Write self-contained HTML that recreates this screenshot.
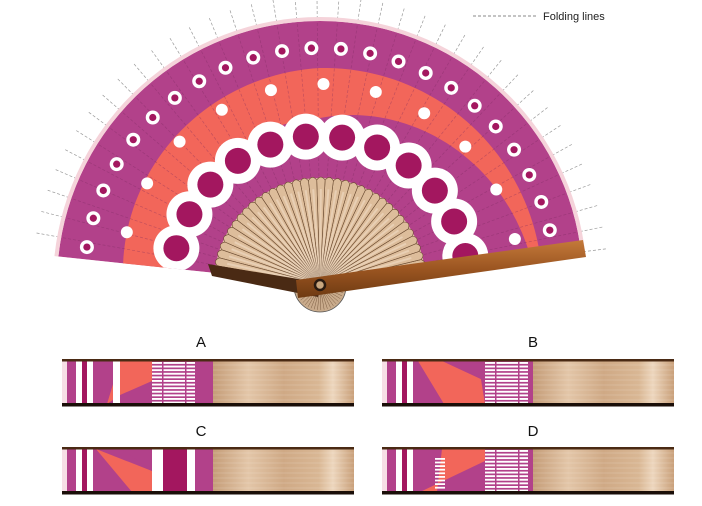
<!DOCTYPE html>
<html><head><meta charset="utf-8">
<style>
html,body{margin:0;padding:0;background:#fff;width:702px;height:506px;overflow:hidden}
svg{display:block}
text{font-family:"Liberation Sans",sans-serif}
</style></head>
<body>
<svg id="s" width="702" height="506" viewBox="0 0 702 506" xmlns="http://www.w3.org/2000/svg">
<defs>
<clipPath id="fanclip"><path id="fcp" d=""/></clipPath>
<linearGradient id="wood" x1="0" y1="0" x2="1" y2="0">
<stop offset="0" stop-color="#c59d78"/><stop offset="0.25" stop-color="#e3c6a8"/>
<stop offset="0.5" stop-color="#cfa985"/><stop offset="0.75" stop-color="#d9b794"/>
<stop offset="0.85" stop-color="#edd6bd"/><stop offset="1" stop-color="#c9a07a"/>
</linearGradient>
<linearGradient id="hand" x1="0" y1="0" x2="0" y2="1">
<stop offset="0" stop-color="#c47a3a"/><stop offset="0.5" stop-color="#9b5521"/><stop offset="1" stop-color="#6e3a12"/>
</linearGradient>
<radialGradient id="rib" cx="0.5" cy="1" r="1">
<stop offset="0.2" stop-color="#b8906c"/><stop offset="1" stop-color="#e2c5a4"/>
</radialGradient>
</defs>
<g id="fan"></g>
<g id="strips"></g>
<line x1="473" y1="16" x2="537" y2="16" stroke="#888" stroke-dasharray="3 2" stroke-width="1"/>
<text x="543" y="20" font-size="11" fill="#222">Folding lines</text>
<text x="201" y="347" font-size="15" fill="#111" text-anchor="middle">A</text>
<text x="533" y="347" font-size="15" fill="#111" text-anchor="middle">B</text>
<text x="201" y="436" font-size="15" fill="#111" text-anchor="middle">C</text>
<text x="533" y="436" font-size="15" fill="#111" text-anchor="middle">D</text>
</svg>
<script>
const NS="http://www.w3.org/2000/svg";
function el(p,t,a){const e=document.createElementNS(NS,t);for(const k in a)e.setAttribute(k,a[k]);p.appendChild(e);return e;}
const cx=320,cy=284,R=263,a0=6,a1=174;
function pt(r,d){const t=d*Math.PI/180;return [cx+r*Math.cos(t),cy-r*Math.sin(t)];}
function sector(r,s,e){const p1=pt(r,s),p2=pt(r,e);return `M${cx},${cy}L${p1[0]},${p1[1]}A${r},${r} 0 0 0 ${p2[0]},${p2[1]}Z`;}
document.getElementById('fcp').setAttribute('d',sector(R,a0,a1));
const fan=document.getElementById('fan');
for(let d=a0+1;d<=a1;d+=4.4){const p=pt(265,d),q=pt(288,d);el(fan,'line',{x1:p[0],y1:p[1],x2:q[0],y2:q[1],stroke:'#999','stroke-width':0.7,'stroke-dasharray':'3 2'});}
el(fan,'path',{d:sector(R+4,a0,a1),fill:'#f5d3da'});
const g=el(fan,'g',{'clip-path':'url(#fanclip)'});
el(g,'path',{d:sector(R,a0,a1),fill:'#b2418a'});
function rOut(d){return d>=90?216+(198-216)*(d-90)/84:222+(216-222)*(d-6)/84;}
function rIn(d){return d>=90?166+(150-166)*(d-90)/84:213+(166-213)*(d-6)/84;}
let pts=[];for(let d=0;d<=180;d+=2)pts.push(pt(rOut(d),d));for(let d=180;d>=0;d-=2)pts.push(pt(rIn(d),d));
el(g,'polygon',{points:pts.map(p=>p.join(',')).join(' '),fill:'#f2665a'});
for(let d=a0+1;d<=a1;d+=4.4){const p=pt(108,d),q=pt(R,d);el(g,'line',{x1:p[0],y1:p[1],x2:q[0],y2:q[1],stroke:'#7a2a5e','stroke-opacity':0.4,'stroke-width':0.7,'stroke-dasharray':'3 2'});}
for(let i=0;i<24;i++){const d=171-i*(165/23);const p=pt(236,d);el(g,'circle',{cx:p[0],cy:p[1],r:7,fill:'#fff'});el(g,'circle',{cx:p[0],cy:p[1],r:3.6,fill:'#a3175f'});}
for(let i=0;i<11;i++){const d=165-i*15.2;const p=pt(200,d);el(g,'circle',{cx:p[0],cy:p[1],r:6,fill:'#fff'});}
const bc=[];for(let i=0;i<12;i++){bc.push(pt(148,166-i*14.1));}
bc.forEach(p=>el(g,'circle',{cx:p[0],cy:p[1],r:23,fill:'#fff'}));
bc.forEach(p=>el(g,'circle',{cx:p[0],cy:p[1],r:13,fill:'#a3175f'}));
el(fan,'circle',{cx:cx,cy:cy+2,r:26,fill:'#c9ab8c',stroke:'#555','stroke-width':0.8});
for(let d=0;d<360;d+=8){const p=[cx+24*Math.cos(d*Math.PI/180),cy+2+24*Math.sin(d*Math.PI/180)];el(fan,'line',{x1:cx,y1:cy+2,x2:p[0],y2:p[1],stroke:'#7b5c40','stroke-width':0.5});}
el(fan,'path',{d:sector(106,8,172),fill:'#e2c6a6'});
for(let d=9;d<=171;d+=4.6){const q=pt(110,d+2.3);const p1=pt(104,d),p2=pt(104,d+4.6);
 el(fan,'path',{d:`M${cx},${cy}L${p1[0]},${p1[1]}Q${q[0]},${q[1]} ${p2[0]},${p2[1]}Z`,fill:'#ddbd9b',stroke:'#6a4a30','stroke-width':0.6});
 const h=pt(95,d+2.3);el(fan,'line',{x1:cx,y1:cy,x2:h[0],y2:h[1],stroke:'#f3e2cd','stroke-width':2,'stroke-opacity':0.5});}
el(fan,'polygon',{points:'208,264 212,276 318,297 322,283',fill:'#4a2a14'});
el(fan,'polygon',{points:'296,280 583,240 586,257 298,298',fill:'url(#hand)'});
el(fan,'circle',{cx:cx,cy:cy+1,r:5,fill:'#c9a77f',stroke:'#2a1a10','stroke-width':2.5});
const S=document.getElementById('strips');
function strip(x0,y0,type){
 const h=47,W=292;const gg=el(S,'g',{});
 const y1=y0+2,hh=h-4;
 el(gg,'rect',{x:x0+151,y:y1,width:W-151,height:hh,fill:'url(#wood)'});
 for(let k=0;k<8;k++)el(gg,'line',{x1:x0+151,y1:y1+4+k*5,x2:x0+W,y2:y1+4+k*5,stroke:'#fff','stroke-opacity':0.15,'stroke-width':1});
 el(gg,'rect',{x:x0,y:y1,width:5,height:hh,fill:'#f7dfe6'});
 el(gg,'rect',{x:x0+5,y:y1,width:146,height:hh,fill:'#b2418a'});
 const X=v=>x0+v;
 if(type=='A'){el(gg,'polygon',{points:`${X(58)},${y1} ${X(90)},${y1} ${X(90)},${y1+20} ${X(58)},${y1+34} ${X(45)},${y1+hh}`,fill:'#f2665a'});}
 if(type=='B'){el(gg,'polygon',{points:`${X(36)},${y1} ${X(96)},${y1} ${X(103)},${y1+hh} ${X(62)},${y1+hh}`,fill:'#f2665a'});el(gg,'polygon',{points:`${X(60)},${y1} ${X(103)},${y1} ${X(103)},${y1+20}`,fill:'#b2418a'});}
 if(type=='C'){el(gg,'polygon',{points:`${X(34)},${y1} ${X(90)},${y1+22} ${X(90)},${y1+hh} ${X(70)},${y1+hh}`,fill:'#f2665a'});el(gg,'polygon',{points:`${X(60)},${y1} ${X(90)},${y1} ${X(90)},${y1+22}`,fill:'#b2418a'});}
 if(type=='D'){el(gg,'polygon',{points:`${X(60)},${y1} ${X(103)},${y1} ${X(103)},${y1+12} ${X(38)},${y1+hh} ${X(55)},${y1+hh}`,fill:'#f2665a'});
   for(let k=0;k<9;k++)el(gg,'rect',{x:X(53),y:y1+9+k*3.6,width:10,height:1.8,fill:'#fff'});}
 el(gg,'rect',{x:X(14),y:y1,width:6,height:hh,fill:'#fff'});
 el(gg,'rect',{x:X(20),y:y1,width:5,height:hh,fill:'#a3175f'});
 el(gg,'rect',{x:X(25),y:y1,width:6,height:hh,fill:'#fff'});
 if(type=='A')el(gg,'rect',{x:X(51),y:y1,width:7,height:hh,fill:'#fff'});
 if(type=='C'){el(gg,'rect',{x:X(90),y:y1,width:11,height:hh,fill:'#fff'});el(gg,'rect',{x:X(101),y:y1,width:24,height:hh,fill:'#a3175f'});el(gg,'rect',{x:X(125),y:y1,width:8,height:hh,fill:'#fff'});}
 else{const sx=type=='A'?X(90):X(103);for(let k=0;k<12;k++)el(gg,'rect',{x:sx,y:y1+1+k*3.6,width:43,height:1.9,fill:'#fff'});
   el(gg,'rect',{x:sx+10,y:y1,width:1.5,height:hh,fill:'#b2418a'});el(gg,'rect',{x:sx+33,y:y1,width:1.5,height:hh,fill:'#b2418a'});}
 el(gg,'rect',{x:x0,y:y0,width:W,height:2.5,fill:'#4a2a14'});
 el(gg,'rect',{x:x0,y:y0+h-3,width:W,height:3.5,fill:'#1a0e08'});
}
strip(62,359,'A');strip(382,359,'B');strip(62,447,'C');strip(382,447,'D');
</script>
</body></html>
